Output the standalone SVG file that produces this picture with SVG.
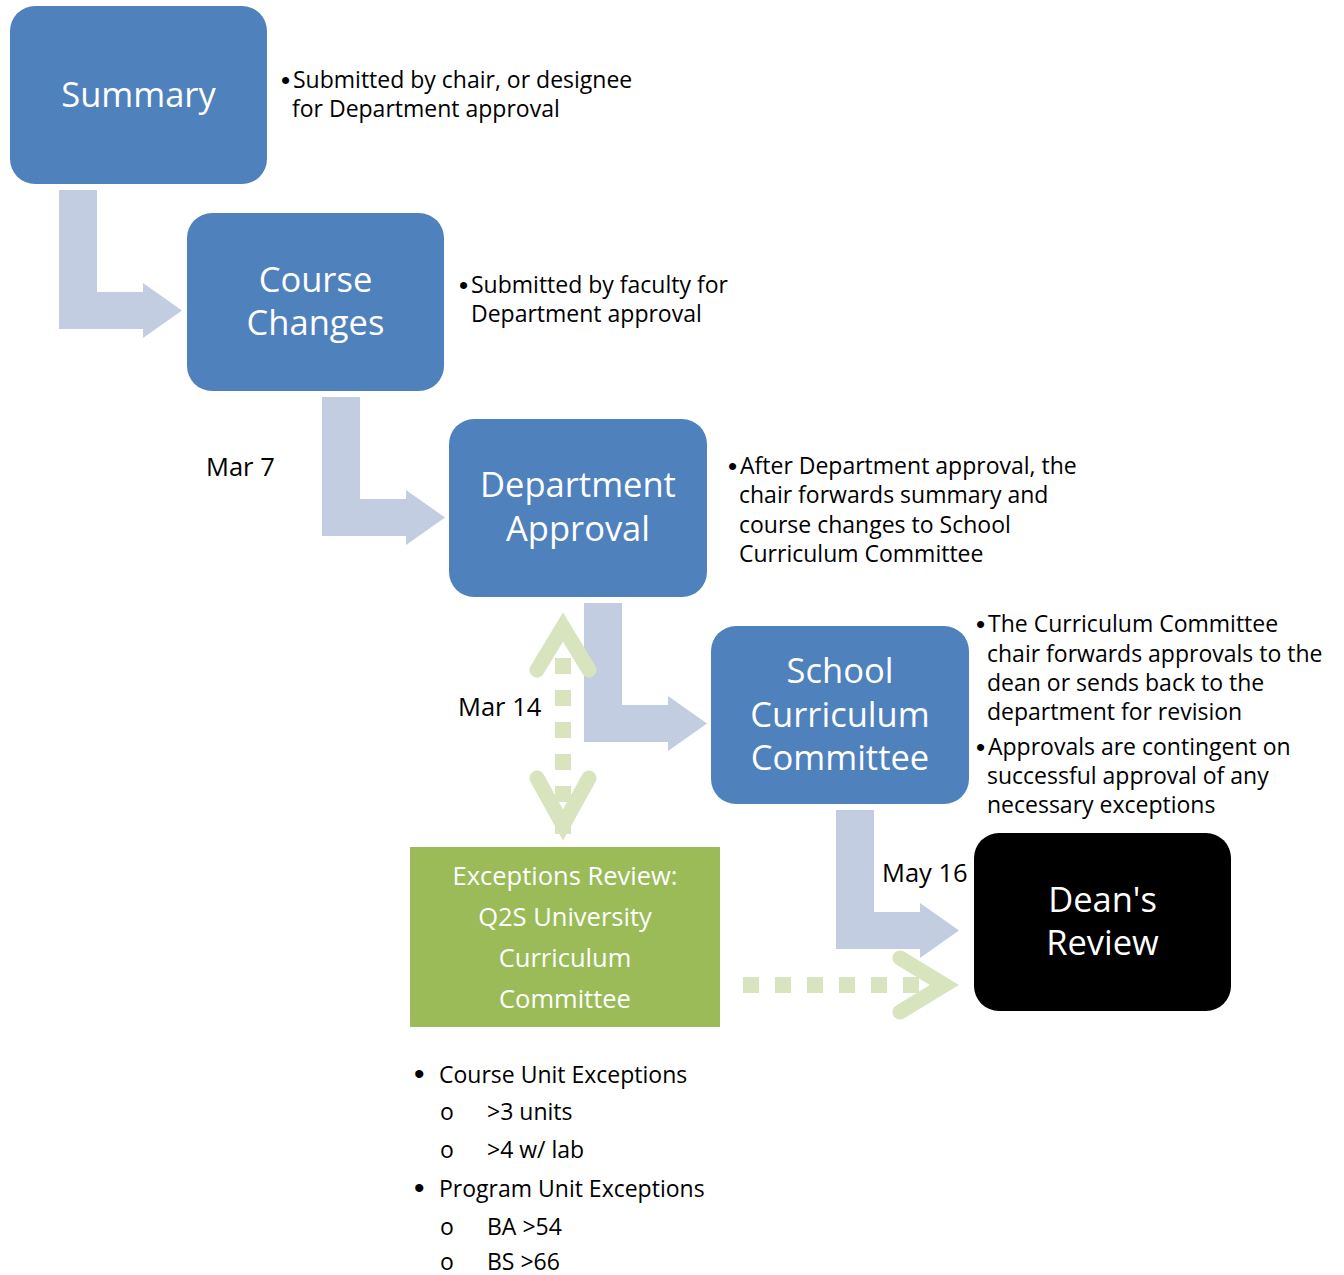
<svg xmlns="http://www.w3.org/2000/svg" width="1344" height="1275" viewBox="0 0 1344 1275">
<defs>
<style>
.box{fill:#4F81BD}
.lbl{font-family:"Open Sans","Liberation Sans",sans-serif;font-size:34.5px;fill:#FFFFFF;text-anchor:middle}
.desc{font-family:"Open Sans","Liberation Sans",sans-serif;font-size:23px;fill:#000000}
.bul{font-family:"Liberation Sans","Open Sans",sans-serif;font-size:26px;fill:#000000}
.date{font-family:"Open Sans","Liberation Sans",sans-serif;font-size:25.5px;fill:#000000}
.exc{font-family:"Open Sans","Liberation Sans",sans-serif;font-size:25.5px;fill:#FFFFFF;text-anchor:middle}
.bent{fill:#C3CDE2}
.gdash{stroke:#D7E4BD;stroke-width:16;stroke-dasharray:16 16;fill:none}
.chev{stroke:#D7E4BD;stroke-width:15;fill:none;stroke-linecap:round;stroke-linejoin:miter;stroke-miterlimit:10}
</style>
<path id="bentArrow" d="M0,0 H38 V102 H84 V93 L123,120.5 L84,148 V139 H0 Z"/>
</defs>
<rect width="1344" height="1275" fill="#FFFFFF"/>

<g id="connectors">
<use href="#bentArrow" class="bent" transform="translate(59,190)"/>
<use href="#bentArrow" class="bent" transform="translate(322,397)"/>
<use href="#bentArrow" class="bent" transform="translate(584,603)"/>
<use href="#bentArrow" class="bent" transform="translate(836,810)"/>
<line class="gdash" x1="563" y1="658" x2="563" y2="836"/>
<polyline class="chev" points="537,670 563,627 589,670"/>
<polyline class="chev" points="537,778 563,825 589,778"/>
<line class="gdash" x1="743" y1="985" x2="935" y2="985"/>
<polyline class="chev" points="900,958 944.5,985 900,1012"/>
</g>

<g id="node-summary">
<rect class="box" x="10" y="6" width="257" height="178" rx="25"/>
<text class="lbl" x="138.5" y="107">Summary</text>
</g>
<g id="node-course-changes">
<rect class="box" x="187" y="213" width="257" height="178" rx="25"/>
<text class="lbl" x="315.5" y="292">Course</text>
<text class="lbl" x="315.5" y="335">Changes</text>
</g>
<g id="node-department-approval">
<rect class="box" x="449" y="419" width="258" height="178" rx="25"/>
<text class="lbl" x="578" y="497">Department</text>
<text class="lbl" x="578" y="541">Approval</text>
</g>
<g id="node-school-committee">
<rect class="box" x="711" y="626" width="258" height="178" rx="25"/>
<text class="lbl" x="840" y="683">School</text>
<text class="lbl" x="840" y="727">Curriculum</text>
<text class="lbl" x="840" y="770">Committee</text>
</g>
<g id="node-deans-review">
<rect x="974" y="833" width="257" height="178" rx="25" fill="#000000"/>
<text class="lbl" x="1102.5" y="912">Dean's</text>
<text class="lbl" x="1102.5" y="955">Review</text>
</g>
<g id="node-exceptions-review">
<rect x="410" y="847" width="310" height="180" fill="#9BBB59"/>
<text class="exc" x="565" y="885">Exceptions Review:</text>
<text class="exc" x="565" y="926">Q2S University</text>
<text class="exc" x="565" y="967">Curriculum</text>
<text class="exc" x="565" y="1008">Committee</text>
</g>

<g id="notes">
<text class="bul" x="281" y="89">•</text>
<text class="desc" x="293" y="88">Submitted by chair, or designee</text>
<text class="desc" x="292" y="117">for Department approval</text>
<text class="bul" x="459" y="294">•</text>
<text class="desc" x="471" y="293">Submitted by faculty for</text>
<text class="desc" x="471" y="322">Department approval</text>
<text class="bul" x="728" y="475">•</text>
<text class="desc" x="740" y="474">After Department approval, the</text>
<text class="desc" x="739" y="503">chair forwards summary and</text>
<text class="desc" x="739" y="533">course changes to School</text>
<text class="desc" x="739" y="562">Curriculum Committee</text>
<text class="bul" x="976" y="633">•</text>
<text class="desc" x="988" y="632">The Curriculum Committee</text>
<text class="desc" x="987" y="662">chair forwards approvals to the</text>
<text class="desc" x="987" y="691">dean or sends back to the</text>
<text class="desc" x="987" y="720">department for revision</text>
<text class="bul" x="976" y="756">•</text>
<text class="desc" x="988" y="755">Approvals are contingent on</text>
<text class="desc" x="987" y="784">successful approval of any</text>
<text class="desc" x="987" y="813">necessary exceptions</text>
<text class="date" x="206" y="476">Mar 7</text>
<text class="date" x="458" y="716">Mar 14</text>
<text class="date" x="882" y="882">May 16</text>
</g>

<g id="exceptions-list">
<text class="bul" x="414" y="1084" style="font-size:30px">•</text>
<text class="desc" x="439" y="1083">Course Unit Exceptions</text>
<text class="desc" x="440" y="1120">o</text>
<text class="desc" x="487" y="1120">&gt;3 units</text>
<text class="desc" x="440" y="1158">o</text>
<text class="desc" x="487" y="1158">&gt;4 w/ lab</text>
<text class="bul" x="414" y="1198" style="font-size:30px">•</text>
<text class="desc" x="439" y="1197">Program Unit Exceptions</text>
<text class="desc" x="440" y="1235">o</text>
<text class="desc" x="487" y="1235">BA &gt;54</text>
<text class="desc" x="440" y="1270">o</text>
<text class="desc" x="487" y="1270">BS &gt;66</text>
</g>
</svg>
